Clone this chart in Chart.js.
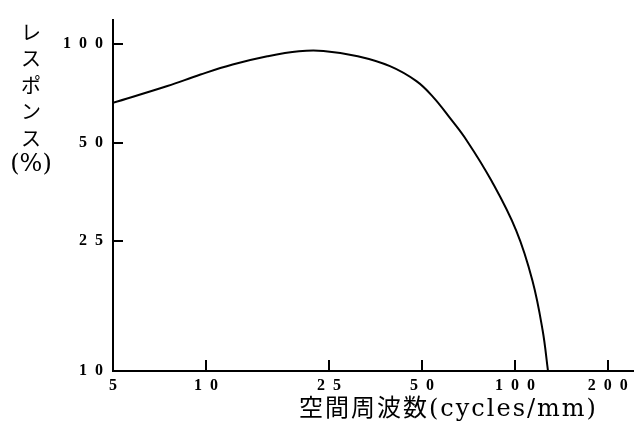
<!DOCTYPE html>
<html>
<head>
<meta charset="utf-8">
<title>MTF</title>
<script src="https://cdn.jsdelivr.net/npm/chart.js@4.4.0/dist/chart.umd.min.js"></script>
<style>
    html, body { margin: 0; padding: 0; background: #fff; }
    #wrap { width: 634px; height: 429px; position: relative; }
</style>
</head>
<body>
<div id="wrap"><canvas id="mtfChart"></canvas></div>
<script>
// 空間周波数 (cycles/mm)
const freqs = [5, 7.5, 9.6, 12.2, 15.8, 20, 24, 31, 39.4, 48, 54.3, 61.6, 70, 84, 101, 114, 123, 128]
// レスポンス (%)
const response = [66.2, 74.5, 80.8, 86.7, 91.9, 95.2, 95.4, 91.9, 85.7, 77.1, 69, 59.5, 50.6, 38.2, 26.9, 18.9, 13.3, 10]

// tick labels
const xTicks = [5, 10, 25, 50, 100, 200]
const yTicks = [10, 25, 50, 100]

// titles
const yTitleChars = ['レ', 'ス', 'ポ', 'ン', 'ス', '(%)']
const xTitle = '空間周波数(cycles/mm)'

;(function () {
    const tickFont = { family: "'Liberation Serif', serif", size: 16, weight: 'bold' }

    // "100" -> "1  0  0" like the typeset original
    const spaced = (v) => String(v).split('').join('  ')

    /* ==============================
               TICKS INSIDE + TITLES
            ============================== */
    const innerTicks = {
        id: 'innerTicks',
        afterDraw(chart) {
            const { ctx, chartArea, scales } = chart
            ctx.save()
            ctx.strokeStyle = '#000'
            ctx.lineWidth = 2

            // x ticks point up into the plot
            xTicks.slice(1).forEach((v) => {
                const px = Math.round(scales.x.getPixelForValue(v))
                ctx.beginPath()
                ctx.moveTo(px, chartArea.bottom)
                ctx.lineTo(px, chartArea.bottom - 11)
                ctx.stroke()
            })

            // y ticks point right
            yTicks.slice(1).forEach((v) => {
                const py = Math.round(scales.y.getPixelForValue(v))
                ctx.beginPath()
                ctx.moveTo(chartArea.left, py)
                ctx.lineTo(chartArea.left + 10, py)
                ctx.stroke()
            })

            // vertical y title
            ctx.fillStyle = '#000'
            ctx.textAlign = 'center'
            ctx.textBaseline = 'middle'
            ctx.font = "20px 'Noto Sans CJK JP', sans-serif"
            yTitleChars.forEach((ch, i) => {
                if (ch === '(%)') ctx.font = "24px 'DejaVu Serif', serif"
                ctx.fillText(ch, 31, 32 + i * 26.5)
            })

            // x title
            ctx.font = "24px 'DejaVu Serif', 'Noto Sans CJK JP', serif"
            ctx.textAlign = 'left'
            ctx.letterSpacing = '2px'
            ctx.fillText(xTitle, 299, 410)
            ctx.restore()
        }
    }

    const el = document.getElementById('mtfChart')

    new Chart(el, {
        type: 'line',
        data: {
            datasets: [
                {
                    label: 'レスポンス',
                    data: freqs.map((f, i) => ({ x: f, y: response[i] })),
                    borderColor: '#000',
                    borderWidth: 2,
                    pointRadius: 0,
                    fill: false,
                    tension: 0.4
                }
            ]
        },
        options: {
            responsive: true,
            maintainAspectRatio: false,
            animation: false,
            layout: { padding: { top: 18, right: 0, left: 0, bottom: 0 } },
            plugins: {
                legend: { display: false },
                tooltip: { enabled: false }
            },
            scales: {
                x: {
                    type: 'logarithmic',
                    min: 5,
                    max: 243,
                    afterBuildTicks: (s) => {
                        s.ticks = xTicks.map((v) => ({ value: v }))
                    },
                    afterFit: (s) => {
                        s.height = 58
                    },
                    grid: { display: false, drawTicks: false },
                    border: { display: true, color: '#000', width: 2 },
                    ticks: {
                        autoSkip: false,
                        maxRotation: 0,
                        padding: 5,
                        color: '#000',
                        font: tickFont,
                        callback: (v) => spaced(v)
                    }
                },
                y: {
                    type: 'logarithmic',
                    min: 10,
                    max: 119,
                    afterBuildTicks: (s) => {
                        s.ticks = yTicks.map((v) => ({ value: v }))
                    },
                    afterFit: (s) => {
                        s.width = 113
                    },
                    grid: { display: false, drawTicks: false },
                    border: { display: true, color: '#000', width: 2 },
                    ticks: {
                        autoSkip: false,
                        padding: 10,
                        color: '#000',
                        font: tickFont,
                        callback: (v) => spaced(v)
                    }
                }
            }
        },
        plugins: [innerTicks]
    })
})()
</script>
</body>
</html>
